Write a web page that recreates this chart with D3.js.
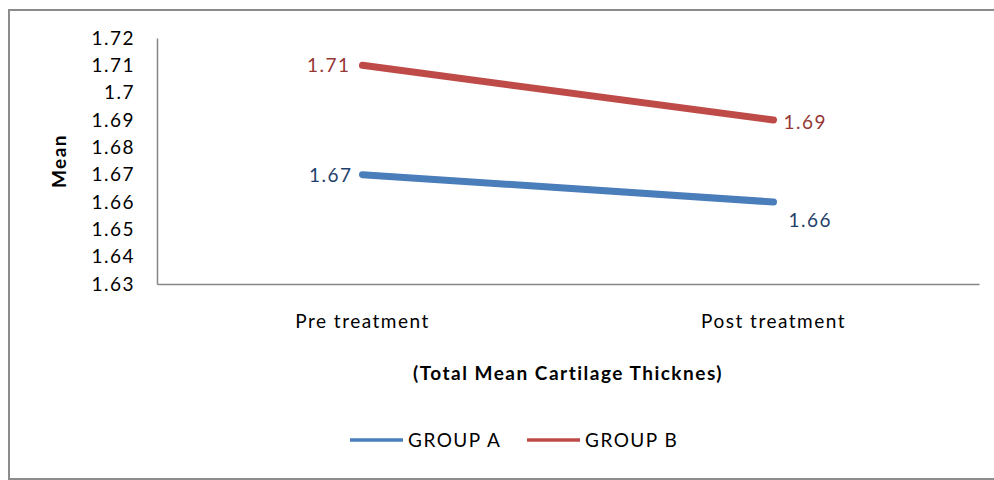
<!DOCTYPE html>
<html>
<head>
<meta charset="utf-8">
<script src="https://cdn.jsdelivr.net/npm/d3@7/dist/d3.min.js"></script>
<style>
  html, body { margin: 0; padding: 0; background: #fff; }
  svg { display: block; font-family: Lato, "Open Sans", sans-serif; }
  text { letter-spacing: 1.5px; }
</style>
</head>
<body>
<svg id="chart" width="994" height="480"></svg>
<script>
// Mean cartilage thickness before and after treatment
const categories = ["Pre treatment", "Post treatment"];
const groupA = [1.67, 1.66];
const groupB = [1.71, 1.69];
const seriesNames = ["GROUP A", "GROUP B"];
const yTicks = [1.63, 1.64, 1.65, 1.66, 1.67, 1.68, 1.69, 1.7, 1.71, 1.72];

const svg = d3.select("#chart");
const W = 994;
const plot = { left: 157, right: 979, top: 38, bottom: 284 };
const FS = 19;

// outer chart frame
svg.append("rect")
  .attr("x", 9).attr("y", 10)
  .attr("width", W + 10).attr("height", 469)
  .attr("fill", "#fff").attr("stroke", "#8c8c8c").attr("stroke-width", 2);

const x = d3.scaleBand().domain(categories).range([plot.left, plot.right]);
const y = d3.scaleLinear().domain([1.63, 1.72]).range([plot.bottom, plot.top]);

// y axis
const yAxis = svg.append("g")
  .attr("transform", `translate(${plot.left},0)`)
  .call(d3.axisLeft(y).tickValues(yTicks).tickSize(0).tickPadding(22)
        .tickFormat(d => String(+d.toFixed(2))));
yAxis.select(".domain").attr("stroke", "#868686").attr("stroke-width", 1.5);
yAxis.selectAll("text").attr("font-size", FS).attr("fill", "#000")
  .attr("font-family", "Lato, sans-serif");

// x axis
const xAxis = svg.append("g")
  .attr("transform", `translate(0,${plot.bottom})`)
  .call(d3.axisBottom(x).tickSize(0).tickPadding(31));
xAxis.select(".domain").attr("stroke", "#868686").attr("stroke-width", 1.5);
xAxis.selectAll("text").attr("font-size", FS).attr("fill", "#000")
  .attr("font-family", "Lato, sans-serif");

// axis titles
svg.append("text")
  .attr("transform", `translate(66,${(plot.top + plot.bottom) / 2}) rotate(-90)`)
  .attr("text-anchor", "middle")
  .attr("font-size", FS).attr("font-weight", "bold")
  .text("Mean");

svg.append("text")
  .attr("x", (plot.left + plot.right) / 2).attr("y", 380)
  .attr("text-anchor", "middle")
  .attr("font-size", FS).attr("font-weight", "bold")
  .text("(Total Mean Cartilage Thicknes)");

const cx = c => x(c) + x.bandwidth() / 2;
const line = d3.line().x((d, i) => cx(categories[i])).y(d => y(d));

const series = [
  { name: seriesNames[0], values: groupA, color: "#4a7ebb", label: "#1f3f6b" },
  { name: seriesNames[1], values: groupB, color: "#be4b48", label: "#953735" }
];

series.forEach(s => {
  svg.append("path")
    .datum(s.values)
    .attr("d", line)
    .attr("fill", "none")
    .attr("stroke", s.color)
    .attr("stroke-width", 7)
    .attr("stroke-linecap", "round");
});

// value labels
const labelFmt = d => d.toFixed(2);
// GROUP B: left of first point, right of second
svg.append("text")
  .attr("x", cx(categories[0]) - 12).attr("y", y(groupB[0]) + 7)
  .attr("text-anchor", "end").attr("font-size", FS).attr("fill", series[1].label)
  .text(labelFmt(groupB[0]));
svg.append("text")
  .attr("x", cx(categories[1]) + 10).attr("y", y(groupB[1]) + 9)
  .attr("text-anchor", "start").attr("font-size", FS).attr("fill", series[1].label)
  .text(labelFmt(groupB[1]));
// GROUP A: left of first point, below-right of second
svg.append("text")
  .attr("x", cx(categories[0]) - 10).attr("y", y(groupA[0]) + 7)
  .attr("text-anchor", "end").attr("font-size", FS).attr("fill", series[0].label)
  .text(labelFmt(groupA[0]));
svg.append("text")
  .attr("x", cx(categories[1]) + 15).attr("y", y(groupA[1]) + 25)
  .attr("text-anchor", "start").attr("font-size", FS).attr("fill", series[0].label)
  .text(labelFmt(groupA[1]));

// legend
const legendX = [350, 527];
series.forEach((s, i) => {
  const g = svg.append("g").attr("transform", `translate(${legendX[i]},440)`);
  g.append("line").attr("x1", 0).attr("x2", 53).attr("y1", 0).attr("y2", 0)
    .attr("stroke", s.color).attr("stroke-width", 3.5);
  g.append("text").attr("x", 58).attr("y", 7)
    .attr("font-size", FS).attr("fill", "#000").text(s.name);
});
</script>
</body>
</html>
